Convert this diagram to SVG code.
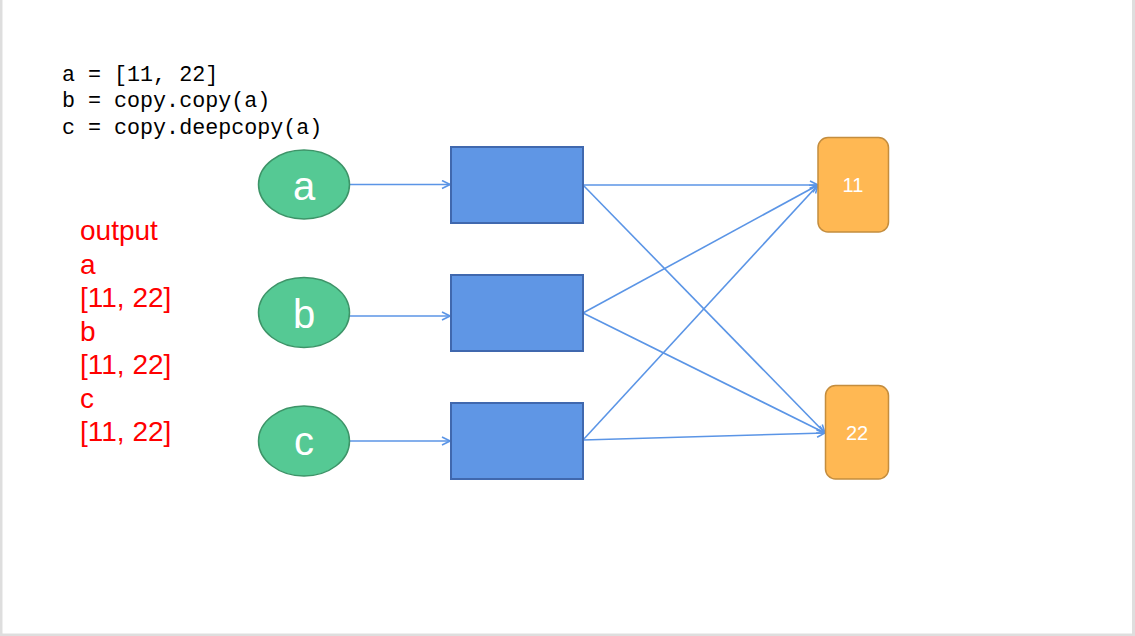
<svg xmlns="http://www.w3.org/2000/svg" width="1135" height="636" viewBox="0 0 1135 636">
<style>
.ell{fill:#55C994;stroke:#3D9468;stroke-width:1.5}
.box{fill:#5F96E5;stroke:#4068AE;stroke-width:2}
.val{fill:#FFB853;stroke:#C48D3E;stroke-width:1.5}
.lbl{font-family:"Liberation Sans",Arial,sans-serif;fill:#fff;text-anchor:middle}
.code{font-family:"Liberation Mono","DejaVu Sans Mono",monospace;font-size:21.7px;fill:#000}
.out{font-family:"Liberation Sans",Arial,sans-serif;font-size:28px;fill:#FF0000}
.con{fill:none;stroke:#5B95E6;stroke-width:1.6;marker-end:url(#ah)}
</style>
<defs>
<marker id="ah" viewBox="0 0 10 10" refX="9" refY="5" markerWidth="10" markerHeight="10" markerUnits="userSpaceOnUse" orient="auto">
<path d="M1,1 L9,5 L1,9" fill="none" stroke="#5B95E6" stroke-width="1.6"/>
</marker>
</defs>
<rect x="0" y="0" width="1135" height="636" fill="#DEDEDE"/>
<rect x="2.5" y="0" width="1129.5" height="633.5" fill="#FFFFFF"/>
<g id="code">
<text class="code" x="62" y="81">a = [11, 22]</text>
<text class="code" x="62" y="107">b = copy.copy(a)</text>
<text class="code" x="62" y="134">c = copy.deepcopy(a)</text>
</g>
<g id="output">
<text class="out" x="80" y="240">output</text>
<text class="out" x="80" y="274">a</text>
<text class="out" x="80" y="307">[11, 22]</text>
<text class="out" x="80" y="341">b</text>
<text class="out" x="80" y="374">[11, 22]</text>
<text class="out" x="80" y="408">c</text>
<text class="out" x="80" y="441">[11, 22]</text>
</g>
<g id="connectors">
<line class="con" x1="349" y1="184.5" x2="450" y2="184.5"/>
<line class="con" x1="349" y1="316" x2="450" y2="316"/>
<line class="con" x1="349" y1="441" x2="450" y2="441"/>
<line class="con" x1="583" y1="185" x2="818" y2="185"/>
<line class="con" x1="583" y1="185" x2="825" y2="433"/>
<line class="con" x1="583" y1="313" x2="818" y2="185"/>
<line class="con" x1="583" y1="313" x2="825" y2="433"/>
<line class="con" x1="583" y1="440" x2="818" y2="185"/>
<line class="con" x1="583" y1="440" x2="825" y2="433"/>
</g>
<g id="var-a">
<ellipse class="ell" cx="304" cy="184.5" rx="45.5" ry="34.5"/>
<text class="lbl" x="304" y="200" font-size="40">a</text>
</g>
<g id="var-b">
<ellipse class="ell" cx="304" cy="312.5" rx="45.5" ry="35"/>
<text class="lbl" x="304" y="328" font-size="40">b</text>
</g>
<g id="var-c">
<ellipse class="ell" cx="304" cy="441" rx="45.5" ry="35"/>
<text class="lbl" x="304" y="455" font-size="40">c</text>
</g>
<g id="list-a"><rect class="box" x="451" y="147" width="132" height="76"/></g>
<g id="list-b"><rect class="box" x="451" y="275" width="132" height="76"/></g>
<g id="list-c"><rect class="box" x="451" y="403" width="132" height="76"/></g>
<g id="val-11">
<rect class="val" x="818" y="137.5" width="70.5" height="94.5" rx="10"/>
<text class="lbl" x="853" y="192" font-size="20">11</text>
</g>
<g id="val-22">
<rect class="val" x="825.5" y="385.5" width="63" height="93.5" rx="10"/>
<text class="lbl" x="857" y="440" font-size="20">22</text>
</g>
</svg>
